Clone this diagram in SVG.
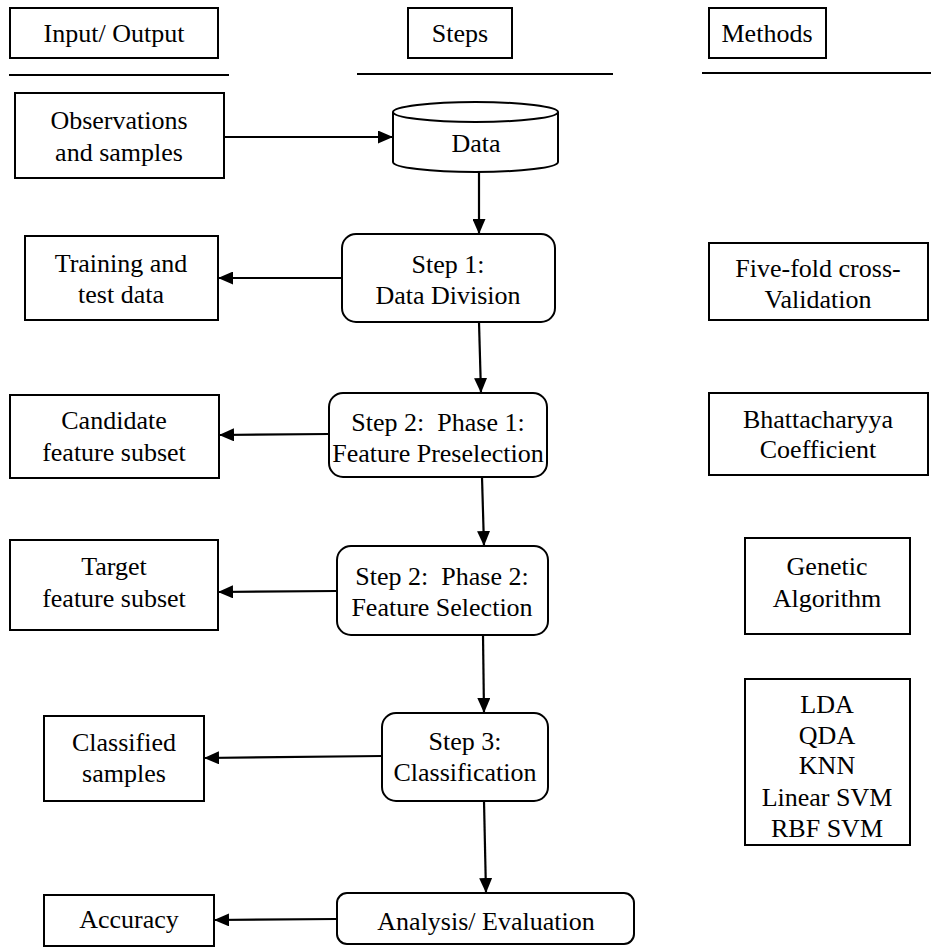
<svg xmlns="http://www.w3.org/2000/svg" width="934" height="947" viewBox="0 0 934 947">
<defs>
<style>
text{font-family:"Liberation Serif","Times New Roman",serif;font-size:26px;fill:#000;text-anchor:middle;white-space:pre}
.box{fill:#fff;stroke:#000;stroke-width:2}
.rule{stroke:#000;stroke-width:2}
.conn{stroke:#000;stroke-width:2.2;fill:none;marker-end:url(#ah)}
</style>
<marker id="ah" viewBox="0 0 15 13" refX="15" refY="6.5" markerWidth="15" markerHeight="13" markerUnits="userSpaceOnUse" orient="auto">
<path d="M0,0 L15,6.5 L0,13 Z" fill="#000"/>
</marker>
</defs>
<rect width="934" height="947" fill="#fff"/>

<g id="hdr-io"><rect class="box" x="10" y="8" width="208" height="50"/><text x="114" y="42">Input/ Output</text></g>
<g id="hdr-steps"><rect class="box" x="408" y="8" width="104" height="50"/><text x="460" y="42">Steps</text></g>
<g id="hdr-methods"><rect class="box" x="709" y="8" width="117" height="50"/><text x="767" y="42">Methods</text></g>
<g id="rules">
<line class="rule" x1="9" y1="75" x2="229" y2="75"/>
<line class="rule" x1="357" y1="74" x2="613" y2="74"/>
<line class="rule" x1="702" y1="73" x2="931" y2="73"/>
</g>

<g id="obs"><rect class="box" x="15" y="93" width="209" height="85"/><text x="119" y="129">Observations</text><text x="119" y="161">and samples</text></g>
<g id="data">
<path class="box" d="M393,112 L393,162 A82.5,10 0 0 0 558,162 L558,112"/>
<ellipse class="box" cx="475.5" cy="112" rx="82.5" ry="10"/>
<text x="476" y="152">Data</text>
</g>
<g id="training"><rect class="box" x="25" y="236" width="193" height="84"/><text x="121" y="272">Training and</text><text x="121" y="303">test data</text></g>
<g id="step1"><rect class="box" x="342" y="234" width="213" height="88" rx="14"/><text x="448" y="273">Step 1:</text><text x="448" y="304">Data Division</text></g>
<g id="fivefold"><rect class="box" x="709" y="243" width="219" height="77"/><text x="818" y="277">Five-fold cross-</text><text x="818" y="308">Validation</text></g>

<g id="candidate"><rect class="box" x="10" y="395" width="209" height="83"/><text x="114" y="429">Candidate</text><text x="114" y="461">feature subset</text></g>
<g id="phase1"><rect class="box" x="329" y="393" width="218" height="84" rx="14"/><text x="438" y="431">Step 2:  Phase 1:</text><text x="438" y="462">Feature Preselection</text></g>
<g id="bhatt"><rect class="box" x="709" y="393" width="219" height="82"/><text x="818" y="428">Bhattacharyya</text><text x="818" y="458">Coefficient</text></g>

<g id="target"><rect class="box" x="10" y="540" width="208" height="90"/><text x="114" y="575">Target</text><text x="114" y="607">feature subset</text></g>
<g id="phase2"><rect class="box" x="337" y="546" width="211" height="89" rx="14"/><text x="442" y="585">Step 2:  Phase 2:</text><text x="442" y="616">Feature Selection</text></g>
<g id="genetic"><rect class="box" x="745" y="538" width="165" height="96"/><text x="827" y="575">Genetic</text><text x="827" y="607">Algorithm</text></g>

<g id="classified"><rect class="box" x="44" y="716" width="160" height="85"/><text x="124" y="751">Classified</text><text x="124" y="782">samples</text></g>
<g id="step3"><rect class="box" x="382" y="713" width="166" height="88" rx="14"/><text x="465" y="750">Step 3:</text><text x="465" y="781">Classification</text></g>
<g id="classifiers"><rect class="box" x="745" y="679" width="165" height="166"/>
<text x="827" y="713">LDA</text><text x="827" y="744">QDA</text><text x="827" y="774">KNN</text><text x="827" y="806">Linear SVM</text><text x="827" y="837">RBF SVM</text></g>

<g id="accuracy"><rect class="box" x="44" y="895" width="170" height="51"/><text x="129" y="928">Accuracy</text></g>
<g id="analysis"><rect class="box" x="337" y="893" width="297" height="51" rx="10"/><text x="486" y="930">Analysis/ Evaluation</text></g>

<g id="connectors">
<line class="conn" x1="224" y1="137" x2="393" y2="137"/>
<line class="conn" x1="479" y1="172" x2="479" y2="234"/>
<line class="conn" x1="342" y1="278" x2="218" y2="278"/>
<line class="conn" x1="479" y1="322" x2="481" y2="393"/>
<line class="conn" x1="329" y1="434" x2="219" y2="435"/>
<line class="conn" x1="482" y1="477" x2="484" y2="546"/>
<line class="conn" x1="337" y1="591" x2="218" y2="592"/>
<line class="conn" x1="483" y1="635" x2="484" y2="713"/>
<line class="conn" x1="382" y1="756" x2="204" y2="758"/>
<line class="conn" x1="484" y1="801" x2="486" y2="893"/>
<line class="conn" x1="337" y1="919" x2="214" y2="920"/>
</g>
</svg>
